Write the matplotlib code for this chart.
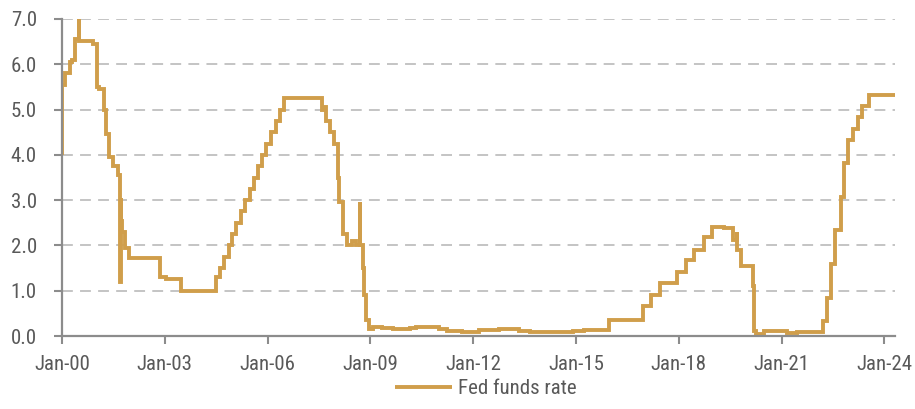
import matplotlib
matplotlib.use("Agg")
import matplotlib.pyplot as plt
import matplotlib.dates as mdates
from matplotlib import font_manager
import pandas as pd

# ---------------- data: effective fed funds rate (%), value from each date on ----------------
dates_2000_2003 = ["2000-01-01", "2000-01-04", "2000-02-03", "2000-03-22", "2000-04-20",
                   "2000-05-17", "2000-06-30", "2000-07-01", "2000-12-01", "2001-01-04",
                   "2001-02-01", "2001-03-21", "2001-04-19", "2001-05-16", "2001-06-28",
                   "2001-08-22", "2001-09-12", "2001-09-17", "2001-09-20", "2001-10-03",
                   "2001-11-07", "2001-12-12", "2002-11-07", "2003-01-10", "2003-06-26",
                   "2003-09-01"]
rate_2000_2003 = [4.00, 5.55, 5.80, 6.05, 6.10, 6.55, 7.00, 6.52, 6.45, 5.50,
                  5.45, 5.00, 4.45, 3.95, 3.75, 3.55, 1.20, 3.05, 2.55, 2.30,
                  1.95, 1.72, 1.30, 1.25, 1.00, 1.00]

dates_2004_2008 = ["2004-07-01", "2004-08-11", "2004-09-22", "2004-11-11", "2004-12-15",
                   "2005-02-03", "2005-03-23", "2005-05-04", "2005-07-01", "2005-08-10",
                   "2005-09-21", "2005-11-02", "2005-12-14", "2006-02-01", "2006-03-29",
                   "2006-05-11", "2006-06-30", "2007-08-09", "2007-08-20", "2007-09-19",
                   "2007-11-01", "2007-12-12", "2008-01-23", "2008-01-31", "2008-03-19",
                   "2008-05-01", "2008-06-15", "2008-08-01", "2008-09-15", "2008-09-17",
                   "2008-10-09", "2008-10-30", "2008-11-10", "2008-12-17"]
rate_2004_2008 = [1.30, 1.50, 1.75, 2.00, 2.25,
                  2.50, 2.75, 3.00, 3.25, 3.50,
                  3.75, 4.00, 4.25, 4.50, 4.75,
                  5.00, 5.25, 5.00, 5.05, 4.75,
                  4.50, 4.25, 3.50, 2.95, 2.25,
                  2.00, 2.10, 2.00, 2.95, 2.00,
                  1.50, 0.90, 0.35, 0.15]

dates_2009_2015 = ["2009-02-01", "2009-05-01", "2009-09-01", "2010-03-01", "2010-05-01",
                   "2011-01-01", "2011-04-01", "2011-09-01", "2012-03-01", "2012-08-01",
                   "2012-10-01", "2013-05-01", "2013-09-01", "2014-04-01", "2014-12-01",
                   "2015-04-01", "2015-12-17"]
rate_2009_2015 = [0.20, 0.18, 0.15, 0.17, 0.20,
                  0.16, 0.10, 0.08, 0.13, 0.13,
                  0.16, 0.11, 0.08, 0.09, 0.12,
                  0.13, 0.36]

dates_2016_2024 = ["2016-12-15", "2017-03-16", "2017-06-15", "2017-12-14", "2018-03-22",
                   "2018-06-14", "2018-09-27", "2018-12-20", "2019-05-02", "2019-08-01",
                   "2019-09-17", "2019-09-19", "2019-10-31", "2020-03-04", "2020-03-17",
                   "2020-04-01", "2020-07-01", "2021-03-01", "2021-06-17", "2022-03-17",
                   "2022-05-05", "2022-06-16", "2022-07-28", "2022-09-22", "2022-11-03",
                   "2022-12-15", "2023-02-02", "2023-03-23", "2023-05-04", "2023-07-27",
                   "2024-04-22"]
rate_2016_2024 = [0.66, 0.91, 1.16, 1.42, 1.68,
                  1.91, 2.18, 2.40, 2.38, 2.13,
                  2.30, 1.90, 1.55, 1.10, 0.10,
                  0.05, 0.10, 0.07, 0.08, 0.33,
                  0.83, 1.58, 2.33, 3.08, 3.83,
                  4.33, 4.58, 4.83, 5.08, 5.33,
                  5.33]

series_label = "Fed funds rate"
y_ticks = [0.0, 1.0, 2.0, 3.0, 4.0, 5.0, 6.0, 7.0]
x_tick_years = [2000, 2003, 2006, 2009, 2012, 2015, 2018, 2021, 2024]

# ---------------- build series ----------------
all_dates = dates_2000_2003 + dates_2004_2008 + dates_2009_2015 + dates_2016_2024
all_rates = rate_2000_2003 + rate_2004_2008 + rate_2009_2015 + rate_2016_2024
s = pd.Series(all_rates, index=pd.to_datetime(all_dates)).sort_index()

# ---------------- fonts ----------------
names = {f.name for f in font_manager.fontManager.ttflist}
cands = ["Roboto Condensed", "Liberation Sans Narrow", "Open Sans Condensed", "Roboto", "DejaVu Sans"]
fam = [f for f in cands if f in names]
plt.rcParams["font.family"] = fam

text_col = "#595959"
line_col = "#D09E4B"
axis_col = "#8C8C8C"

fig = plt.figure(figsize=(9.15, 4.09), dpi=100)
ax = fig.add_axes([62 / 915, 1 - 336 / 409, (895 - 62) / 915, (336 - 19) / 409])

ax.plot(s.index, s.values, color=line_col, lw=2.8, drawstyle="steps-post",
        label=series_label, solid_joinstyle="miter", solid_capstyle="butt")

ax.set_ylim(0, 7)
ax.set_yticks(y_ticks)
ax.set_yticklabels([f"{v:.1f}" for v in y_ticks])
ax.set_xlim(pd.Timestamp("2000-01-01"), pd.Timestamp("2024-04-25"))
ax.set_xticks([pd.Timestamp(f"{y}-01-01") for y in x_tick_years])
ax.xaxis.set_major_formatter(mdates.DateFormatter("Jan-%y"))

ax.grid(axis="y", color="#BFBFBF", lw=1.3, dashes=(6, 4))
ax.set_axisbelow(True)
for side in ["top", "right"]:
    ax.spines[side].set_visible(False)
for side in ["left", "bottom"]:
    ax.spines[side].set_color(axis_col)
    ax.spines[side].set_linewidth(1.6)

ax.tick_params(axis="both", colors=axis_col, length=6, width=1.5, labelsize=15,
               labelcolor=text_col)
ax.tick_params(axis="x", pad=8)
ax.tick_params(axis="y", pad=12)

fig.legend(loc="lower center", bbox_to_anchor=(0.531, -0.02), frameon=False,
           fontsize=15, labelcolor=text_col, handlelength=2.7, handletextpad=0.3)

fig.savefig("out.png", dpi=100)
